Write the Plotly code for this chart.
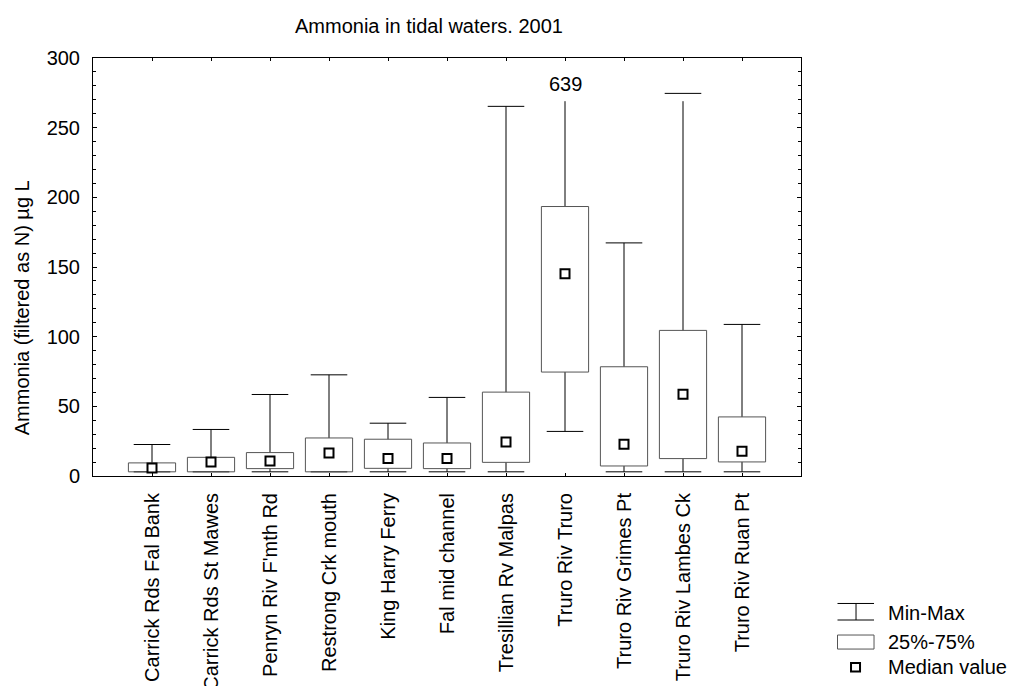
import plotly.graph_objects as go

# ---- data ----
sites = ["Carrick Rds Fal Bank", "Carrick Rds St Mawes", "Penryn Riv F'mth Rd",
         "Restrong Crk mouth", "King Harry Ferry", "Fal mid channel",
         "Tresillian Rv Malpas", "Truro Riv Truro", "Truro Riv Grimes Pt",
         "Truro Riv Lambes Ck", "Truro Riv Ruan Pt"]
min_vals = [3, 3, 3, 3, 3, 3, 3, 32, 3, 3, 3]
q1_vals = [3, 3, 5.3, 3, 5.5, 5.3, 9.8, 74.6, 7.2, 12.5, 10.1]
median_vals = [5.8, 10.1, 10.8, 16.5, 12.5, 12.5, 24.4, 145.2, 22.8, 58.7, 17.8]
q3_vals = [9.4, 13.4, 16.8, 27.3, 26.4, 23.7, 60.2, 193.4, 78.4, 104.5, 42.4]
max_vals = [22.6, 33.4, 58.5, 72.6, 37.9, 56.4, 265.3, 639, 167.3, 274.6, 108.8]
y_ticks = [0, 50, 100, 150, 200, 250, 300]

# ---- style ----
FONT = "Liberation Sans, Arial, sans-serif"
FS = 20
Y_MAX = 300
BOX_HALF = 0.40
CAP_HALF = 0.31
CLIP_TOP = 269
LABEL_Y = 281

x_pos = list(range(len(sites)))

box_x, box_y = [], []
wh_x, wh_y = [], []
for i, (lo, a, b, hi) in enumerate(zip(min_vals, q1_vals, q3_vals, max_vals)):
    box_x += [i - BOX_HALF, i + BOX_HALF, i + BOX_HALF, i - BOX_HALF, i - BOX_HALF, None]
    box_y += [a, a, b, b, a, None]
    top = min(hi, CLIP_TOP)
    wh_x += [i, i, None]
    wh_y += [b, top, None]
    if hi <= Y_MAX:
        wh_x += [i - CAP_HALF, i + CAP_HALF, None]
        wh_y += [hi, hi, None]
    wh_x += [i, i, None, i - CAP_HALF, i + CAP_HALF, None]
    wh_y += [a, lo, None, lo, lo, None]

fig = go.Figure()
fig.add_trace(go.Scatter(x=wh_x, y=wh_y, mode="lines",
                         line=dict(color="black", width=1), hoverinfo="skip",
                         showlegend=False, cliponaxis=True))
fig.add_trace(go.Scatter(x=box_x, y=box_y, mode="lines",
                         line=dict(color="#555555", width=1), hoverinfo="skip",
                         showlegend=False))
fig.add_trace(go.Scatter(x=x_pos, y=median_vals, mode="markers",
                         marker=dict(symbol="square", size=9, color="white",
                                     line=dict(color="black", width=2)),
                         showlegend=False, cliponaxis=False))

annotations = []
for i, hi in enumerate(max_vals):
    if hi > Y_MAX:
        annotations.append(dict(x=i, y=LABEL_Y, xref="x", yref="y", text=str(hi),
                                showarrow=False, font=dict(family=FONT, size=FS, color="black")))

# title and y title
annotations.append(dict(x=0.4744, y=1.076, xref="paper", yref="paper",
                        text="Ammonia in tidal waters. 2001", showarrow=False,
                        xanchor="center", yanchor="middle",
                        font=dict(family=FONT, size=FS, color="black")))
annotations.append(dict(x=-0.1007, y=0.403, xref="paper", yref="paper",
                        text="Ammonia (filtered as N) µg L", showarrow=False,
                        textangle=-90, xanchor="center", yanchor="middle",
                        font=dict(family=FONT, size=FS, color="black")))

# legend (drawn manually)
PW, PH, L, T = 707.7, 417.4, 93.3, 475.7
def px(x):
    return (x - L) / PW
def py(y):
    return (T - y) / PH

shapes = [
    dict(type="line", xref="paper", yref="paper", x0=px(837.5), x1=px(874), y0=py(603), y1=py(603), line=dict(color="black", width=1)),
    dict(type="line", xref="paper", yref="paper", x0=px(837.5), x1=px(874), y0=py(619.5), y1=py(619.5), line=dict(color="black", width=1)),
    dict(type="line", xref="paper", yref="paper", x0=px(856), x1=px(856), y0=py(603), y1=py(619.5), line=dict(color="black", width=1)),
    dict(type="rect", xref="paper", yref="paper", x0=px(837.5), x1=px(874), y0=py(634.5), y1=py(648.5), line=dict(color="#555555", width=1), fillcolor="white"),
    dict(type="rect", xref="paper", yref="paper", x0=px(851), x1=px(860), y0=py(662.5), y1=py(671), line=dict(color="black", width=2), fillcolor="white"),
]
for label, yc in [("Min-Max", 612.5), ("25%-75%", 641.5), ("Median value", 666.5)]:
    annotations.append(dict(x=px(886), y=py(yc), xref="paper", yref="paper", text=label,
                            showarrow=False, xanchor="left", yanchor="middle",
                            font=dict(family=FONT, size=FS, color="black")))

fig.update_layout(
    width=1009, height=686,
    margin=dict(l=93.3, r=1009 - 801, t=58.3, b=686 - 475.7, pad=0, autoexpand=False),
    paper_bgcolor="white", plot_bgcolor="white",
    font=dict(family=FONT, size=FS, color="black"),
    showlegend=False,
    annotations=annotations,
    shapes=shapes,
)
fig.update_xaxes(range=[-1, len(sites)], tickmode="array", tickvals=x_pos, ticktext=sites,
                 tickangle=-90, ticks="inside", ticklen=3, tickcolor="black",
                 showline=True, linecolor="black", linewidth=1, mirror="allticks",
                 showgrid=False, zeroline=False, ticklabelstandoff=8, automargin=False,
                 tickfont=dict(family=FONT, size=FS, color="black"))
fig.update_yaxes(range=[0, Y_MAX], tickmode="array", tickvals=y_ticks,
                 ticks="inside", ticklen=4, tickcolor="black",
                 minor=dict(dtick=10, ticks="inside", ticklen=3, tickcolor="black", showgrid=False),
                 showline=True, linecolor="black", linewidth=1, mirror="allticks",
                 showgrid=False, zeroline=False, ticklabelstandoff=8, automargin=False,
                 tickfont=dict(family=FONT, size=FS, color="black"))

fig.write_html("out.html", config={"displayModeBar": False},
               post_script="document.body.style.margin='0';document.body.style.overflow='hidden';")
